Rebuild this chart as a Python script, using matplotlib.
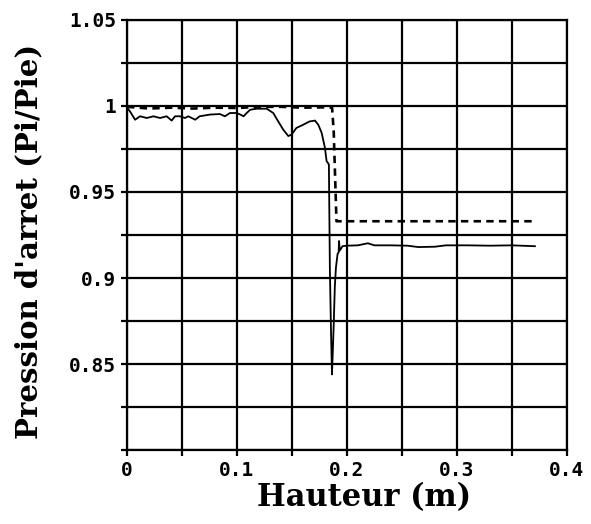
import numpy as np
import matplotlib
matplotlib.use('Agg')
import matplotlib.pyplot as plt

# courbe mesuree (trait plein)
x_mes = [0.0, 0.0027, 0.0073, 0.0118, 0.018, 0.024, 0.030, 0.036, 0.0406, 0.0436, 0.048,
         0.0527, 0.0557, 0.062, 0.066, 0.0755, 0.0845, 0.089, 0.0936, 0.0997, 0.103, 0.106,
         0.109, 0.112, 0.118, 0.127, 0.133, 0.1375, 0.142, 0.1467, 0.1497, 0.154, 0.160,
         0.166, 0.171, 0.174, 0.177, 0.180, 0.1815, 0.1836, 0.1845, 0.1855, 0.1864,
         0.1872, 0.188, 0.189, 0.190, 0.1915, 0.1925, 0.1928, 0.1935, 0.196, 0.200,
         0.210, 0.219, 0.225, 0.240, 0.255, 0.265, 0.280, 0.290, 0.310, 0.330, 0.350, 0.371]
y_mes = [0.999, 0.9968, 0.992, 0.994, 0.993, 0.994, 0.993, 0.994, 0.9915, 0.994, 0.994,
         0.993, 0.994, 0.992, 0.994, 0.995, 0.9953, 0.994, 0.9959, 0.9959, 0.995, 0.994,
         0.996, 0.9978, 0.9984, 0.9984, 0.9959, 0.991, 0.9863, 0.9825, 0.9834, 0.9872, 0.989,
         0.991, 0.9915, 0.989, 0.9844, 0.9757, 0.968, 0.966, 0.905, 0.870, 0.844,
         0.858, 0.873, 0.895, 0.906, 0.914, 0.915, 0.9215, 0.916, 0.9185, 0.9188,
         0.919, 0.9202, 0.919, 0.919, 0.9188, 0.918, 0.9182, 0.919, 0.919, 0.9188, 0.919, 0.9185]

# courbe theorique (pointilles)
x_th = [0.0, 0.02, 0.04, 0.06, 0.08, 0.10, 0.12, 0.14, 0.16, 0.18, 0.1865, 0.188, 0.1905, 0.369]
y_th = [0.9995, 0.9985, 0.999, 0.9985, 0.999, 0.9988, 0.9995, 0.9995, 0.999, 0.9992, 0.999, 0.985, 0.933, 0.933]

x_grid = np.arange(0, 0.4001, 0.05)
y_grid = np.arange(0.8, 1.0501, 0.025)
x_labels = ['0', '', '0.1', '', '0.2', '', '0.3', '', '0.4']
y_labels = ['', '', '0.85', '', '0.9', '', '0.95', '', '1', '', '1.05']

fig = plt.figure(figsize=(5.91, 5.24), dpi=100)
ax = fig.add_axes([0.215, 0.141, 0.744, 0.821])

ax.plot(x_mes, y_mes, color='black', lw=1.3)
ax.plot(x_th, y_th, color='black', lw=1.9, dashes=(2.8, 2.0))

ax.set_xlim(0, 0.4)
ax.set_ylim(0.8, 1.05)
ax.set_xticks(x_grid)
ax.set_xticklabels(x_labels)
ax.set_yticks(y_grid)
ax.set_yticklabels(y_labels)
ax.grid(True, color='black', lw=1.6)
for s in ax.spines.values():
    s.set_linewidth(1.6)
ax.tick_params(direction='out', length=4, width=1.6, pad=4)
for lab in ax.get_xticklabels() + ax.get_yticklabels():
    lab.set_fontfamily('DejaVu Sans Mono')
    lab.set_fontweight('bold')
    lab.set_fontsize(14)

ax.set_xlabel('Hauteur (m)', fontfamily='DejaVu Serif', fontweight='bold', fontsize=22)
ax.xaxis.set_label_coords(0.54, -0.075)
ax.set_ylabel("Pression d'arret (Pi/Pie)", fontfamily='DejaVu Serif', fontweight='bold', fontsize=21)
ax.yaxis.set_label_coords(-0.19, 0.485)

fig.savefig('out.png', dpi=100)
